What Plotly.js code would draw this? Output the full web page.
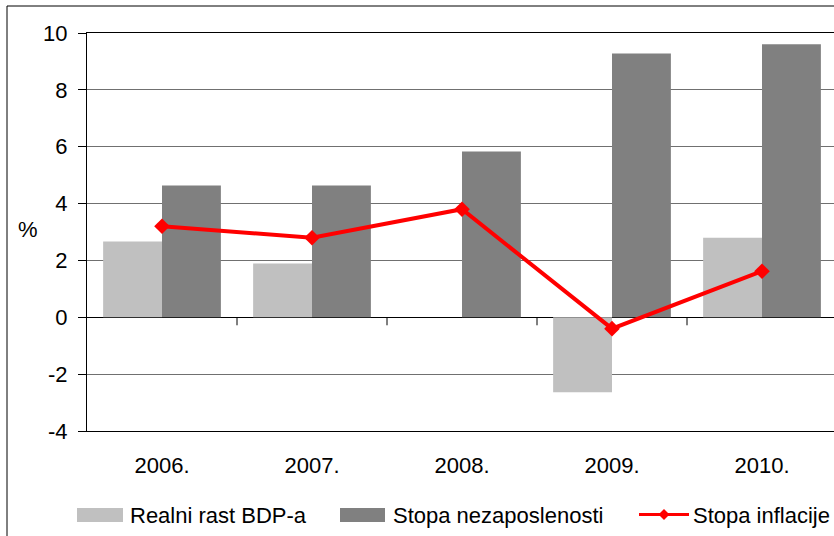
<!DOCTYPE html>
<html>
<head>
<meta charset="utf-8">
<script src="https://cdn.plot.ly/plotly-3.0.1.min.js"></script>
<style>
html, body { margin: 0; padding: 0; overflow: hidden; background: #fff; }
#chart { width: 850px; height: 545px; }
</style>
</head>
<body>
<div id="chart"></div>
<script>
// ---- data ----
var years = ["2006.", "2007.", "2008.", "2009.", "2010."];
var seriesNames = ["Realni rast BDP-a", "Stopa nezaposlenosti", "Stopa inflacije"];
var gdpGrowth = [2.67, 1.89, null, -2.64, 2.8];
var unemployment = [4.64, 4.64, 5.83, 9.28, 9.6];
var inflation = [3.2, 2.8, 3.8, -0.4, 1.62];
var yTicks = [-4, -2, 0, 2, 4, 6, 8, 10];
var yUnit = "%";

// ---- styling ----
var FONT = "Liberation Sans, Arial, sans-serif";
var FS = 22;
var W = 850, H = 545;
var ML = 87, MR = 13, MT = 33, MB = 114;
var PW = W - ML - MR, PH = H - MT - MB;
function px(x) { return (x - ML) / PW; }
function py(y) { return (H - MB - y) / PH; }

var colLight = "#C0C0C0", colDark = "#808080", colRed = "#FF0000";

var traces = [
  { type: "bar", name: seriesNames[0], x: years, y: gdpGrowth,
    marker: { color: colLight }, showlegend: false, hoverinfo: "x+y" },
  { type: "bar", name: seriesNames[1], x: years, y: unemployment,
    marker: { color: colDark }, showlegend: false, hoverinfo: "x+y" },
  { type: "scatter", mode: "lines+markers", name: seriesNames[2], x: years, y: inflation,
    line: { color: colRed, width: 4 },
    marker: { symbol: "diamond", size: 12, color: colRed },
    showlegend: false, hoverinfo: "x+y" }
];

var shapes = [];
// outer chart frame
shapes.push({ type: "rect", xref: "paper", yref: "paper",
  x0: px(7), x1: px(W + 20), y0: py(6), y1: py(H + 20),
  line: { color: "#000", width: 1 }, fillcolor: "rgba(0,0,0,0)", layer: "below" });
// category tick marks hanging from the zero line
for (var i = 0; i < years.length - 1; i++) {
  shapes.push({ type: "line", xref: "x", yref: "y", ysizemode: "pixel", yanchor: 0,
    x0: i + 0.5, x1: i + 0.5, y0: 0, y1: -8,
    line: { color: "#000", width: 1 } });
}

// custom legend
var legY = 515;
shapes.push({ type: "rect", xref: "paper", yref: "paper",
  x0: px(77), x1: px(123), y0: py(508), y1: py(522),
  line: { width: 0 }, fillcolor: colLight });
shapes.push({ type: "rect", xref: "paper", yref: "paper",
  x0: px(340), x1: px(385), y0: py(508), y1: py(522),
  line: { width: 0 }, fillcolor: colDark });
shapes.push({ type: "line", xref: "paper", yref: "paper",
  x0: px(639), x1: px(689), y0: py(514.5), y1: py(514.5),
  line: { color: colRed, width: 3 } });
var dc = 664, dy = 514.5, dr = 5.5;
shapes.push({ type: "path", xref: "paper", yref: "paper",
  path: "M" + px(dc) + "," + py(dy - dr) + " L" + px(dc + dr) + "," + py(dy) +
        " L" + px(dc) + "," + py(dy + dr) + " L" + px(dc - dr) + "," + py(dy) + " Z",
  line: { width: 0 }, fillcolor: colRed });

var legTextX = [129, 392, 692];
var annotations = [];
for (var k = 0; k < seriesNames.length; k++) {
  annotations.push({ xref: "paper", yref: "paper", x: px(legTextX[k]), y: py(legY),
    xanchor: "left", yanchor: "middle", text: seriesNames[k], showarrow: false,
    font: { family: FONT, size: FS, color: "#000" }, borderpad: 0 });
}
annotations.push({ xref: "paper", yref: "paper", x: px(28), y: py(229),
  xanchor: "center", yanchor: "middle", text: yUnit, showarrow: false,
  font: { family: FONT, size: FS, color: "#000" } });

var layout = {
  width: W, height: H,
  margin: { l: ML, r: MR, t: MT, b: MB, pad: 0 },
  paper_bgcolor: "#fff", plot_bgcolor: "#fff",
  font: { family: FONT, size: FS, color: "#000" },
  barmode: "group", bargap: 0.215, bargroupgap: 0,
  showlegend: false,
  xaxis: {
    type: "category", categoryorder: "array", categoryarray: years,
    showline: true, mirror: true, linecolor: "#000", linewidth: 1,
    showgrid: false, ticks: "", zeroline: false,
    tickfont: { family: FONT, size: FS, color: "#000" },
    ticklabelstandoff: 15
  },
  yaxis: {
    range: [-4, 10], tickvals: yTicks, ticktext: yTicks.map(String),
    showline: true, linecolor: "#000", linewidth: 1,
    ticks: "outside", ticklen: 8, tickcolor: "#000", tickwidth: 1,
    showgrid: true, gridcolor: "#707070", gridwidth: 1,
    zeroline: true, zerolinecolor: "#000", zerolinewidth: 1,
    tickfont: { family: FONT, size: FS, color: "#000" },
    ticklabelstandoff: 6
  },
  shapes: shapes,
  annotations: annotations
};

Plotly.newPlot("chart", traces, layout, { displayModeBar: false, staticPlot: true });
</script>
</body>
</html>
